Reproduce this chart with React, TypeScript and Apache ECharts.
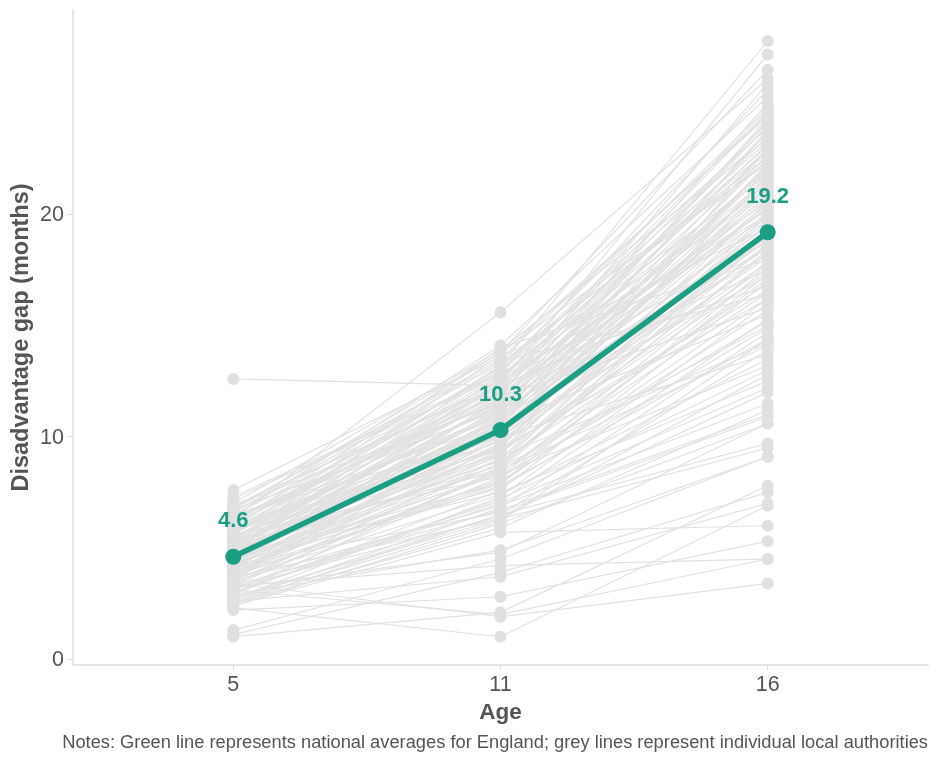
import React, { useEffect, useRef } from "react";
import * as echarts from "echarts";

const ageLabels = ["5", "11", "16"];
const nationalAverage = [4.6, 10.3, 19.2];

// individual local authorities: gap at age 5, 11 and 16 (same index = same authority)
const laAge5 = [
  5.6, 5.2, 6.1, 4.9, 5.8, 6.4, 5.0, 5.4, 6.8, 4.7, 5.9, 6.2, 4.4, 5.1, 7.0, 5.5, 4.8, 6.0, 3.9, 5.3,
  6.6, 4.2, 5.7, 4.6, 7.3, 3.6, 5.0, 6.3, 4.1, 5.6, 4.5, 6.9, 3.8, 5.2, 4.3, 6.5, 3.5, 4.9, 5.8, 4.0,
  7.6, 4.7, 3.3, 5.4, 6.1, 4.4, 3.7, 5.1, 6.7, 4.2, 3.1, 5.5, 4.6, 12.6, 3.9, 5.9, 2.9, 4.8, 3.4, 5.3,
  2.7, 4.1, 6.4, 3.2, 4.5, 2.6, 3.8, 5.0, 2.5, 3.6, 4.3, 2.8, 3.0, 6.3, 2.4, 2.3, 1.3, 3.1, 2.2, 3.4,
  1.1, 1.0, 2.9, 3.3, 2.6, 3.7, 2.7, 3.2, 2.5, 4.2, 3.5, 4.6, 5.2, 4.1, 5.7, 4.9, 3.8, 5.4, 6.2, 4.4,
  5.0, 3.9, 6.0, 4.7, 5.5, 4.2, 6.6, 3.4, 5.1, 4.5, 5.8, 3.7, 6.3, 4.8, 5.3, 4.0, 6.8, 5.6, 3.5, 4.3,
  5.9, 2.9, 4.6, 6.5, 3.3, 5.2, 7.2, 4.9, 3.6, 6.1, 4.4, 5.7, 3.0, 4.1, 5.4, 6.7, 2.4, 4.7, 5.0, 3.2,
  6.4, 5.3, 3.9, 6.9, 4.5, 5.6, 2.6,
];
const laAge11 = [
  13.2, 12.4, 13.8, 11.9, 12.9, 14.1, 11.6, 12.6, 13.5, 11.2, 12.2, 13.0, 10.9, 12.0, 13.9, 11.4, 10.6, 12.7, 10.2, 11.8,
  13.3, 10.0, 11.1, 12.1, 12.8, 9.6, 10.8, 11.7, 9.9, 12.3, 10.4, 11.5, 9.2, 10.7, 11.3, 12.5, 8.8, 10.1, 11.0, 9.4,
  13.6, 10.5, 8.5, 9.8, 12.0, 9.0, 10.3, 8.7, 11.2, 9.7, 8.2, 10.0, 7.9, 12.3, 9.3, 10.9, 7.6, 8.9, 8.4, 9.5,
  7.3, 8.0, 10.6, 7.1, 8.6, 6.8, 7.8, 9.1, 6.5, 7.4, 8.3, 6.3, 7.0, 15.6, 5.7, 1.0, 4.5, 2.0, 2.8, 1.9,
  3.9, 2.1, 4.9, 4.2, 3.7, 6.3, 6.5, 4.8, 5.9, 6.6, 6.9, 10.2, 11.0, 10.8, 12.6, 9.6, 9.9, 11.4, 12.2, 10.3,
  11.5, 8.8, 13.1, 9.3, 10.4, 11.7, 12.9, 9.0, 10.1, 12.4, 9.8, 8.1, 11.3, 10.7, 13.7, 12.8, 13.4, 14.0, 11.8, 7.7,
  9.4, 8.6, 7.5, 10.0, 6.7, 8.5, 12.7, 13.2, 10.6, 11.9, 9.5, 10.5, 7.2, 8.4, 12.1, 13.8, 6.1, 11.1, 12.5, 6.4,
  11.6, 9.2, 7.9, 12.3, 10.9, 8.2, 6.2,
];
const laAge16 = [
  27.8, 27.2, 26.5, 25.9, 25.6, 25.3, 25.0, 24.7, 24.5, 24.3, 24.1, 23.9, 23.7, 23.5, 23.4, 23.2, 23.0, 22.9, 22.7, 22.6,
  22.4, 22.3, 22.1, 22.0, 21.8, 21.7, 21.5, 21.4, 21.2, 21.1, 20.9, 20.8, 20.6, 20.5, 20.3, 20.2, 20.0, 19.9, 19.7, 19.6,
  19.4, 19.3, 19.1, 19.0, 18.8, 18.7, 18.5, 18.4, 18.2, 18.1, 17.9, 17.8, 17.6, 17.5, 17.4, 17.2, 17.0, 16.9, 16.5, 16.2,
  16.0, 15.7, 15.5, 15.3, 15.0, 14.7, 14.4, 14.2, 13.9, 13.5, 13.2, 12.8, 12.2, 26.1, 6.0, 6.9, 9.1, 4.5, 5.3, 3.4,
  7.5, 7.8, 9.1, 4.5, 7.0, 9.5, 9.7, 10.6, 11.2, 10.9, 11.5, 21.3, 20.7, 22.5, 23.3, 18.9, 20.1, 21.9, 22.8, 19.5,
  24.0, 18.3, 24.8, 17.7, 20.4, 21.6, 23.6, 19.8, 22.2, 23.1, 18.6, 17.3, 21.0, 19.2, 24.4, 16.8, 16.4, 18.0, 15.8, 14.9,
  16.6, 19.4, 12.5, 13.7, 11.0, 14.1, 21.2, 22.6, 23.8, 20.6, 21.8, 22.0, 13.0, 17.1, 19.9, 22.3, 10.6, 24.2, 20.0, 12.0,
  18.5, 23.0, 16.2, 24.6, 18.8, 15.2, 14.4,
];

const GREEN = "#1b9e84";
const GREY_LINE = "#e1e1e1";
const GREY_DOT = "#e0e0e0";
const TEXT = "#555555";
const FONT = "Liberation Sans, Arial, sans-serif";

export default function App() {
  const ref = useRef<HTMLDivElement>(null);
  useEffect(() => {
    if (!ref.current) return;
    const chart = echarts.init(ref.current, undefined, { renderer: "svg" });
    const laSeries = laAge5.map((v5, i) => ({
      type: "line" as const,
      silent: true,
      data: [
        [0, v5],
        [1, laAge11[i]],
        [2, laAge16[i]],
      ],
      symbol: "circle",
      symbolSize: 12,
      itemStyle: { color: GREY_DOT },
      lineStyle: { color: GREY_LINE, width: 1.2 },
      z: 2,
    }));
    chart.setOption({
      animation: false,
      textStyle: { fontFamily: FONT },
      grid: { left: 73, right: 12, top: 10, bottom: 98, containLabel: false, outerBoundsMode: "none" },
      xAxis: {
        type: "value",
        min: -0.6,
        max: 2.6,
        name: "Age",
        nameLocation: "middle",
        nameGap: 35,
        nameMoveOverlap: false,
        nameTextStyle: { fontSize: 22.5, fontWeight: "bold", color: TEXT, fontFamily: FONT },
        axisLine: { show: true, onZero: false, lineStyle: { color: "#e6e6e6", width: 2 } },
        axisTick: { show: true, customValues: [0, 1, 2], length: 5, lineStyle: { color: "#dddddd", width: 1 } },
        axisLabel: {
          customValues: [0, 1, 2],
          formatter: (v: number) => ageLabels[Math.round(v)] ?? "",
          fontSize: 21.5,
          color: TEXT,
          margin: 8,
          fontFamily: FONT,
        },
        splitLine: { show: false },
      },
      yAxis: {
        type: "value",
        min: -0.27,
        max: 29.2,
        name: "Disadvantage gap (months)",
        nameLocation: "middle",
        nameGap: 41,
        nameMoveOverlap: false,
        nameRotate: 90,
        nameTextStyle: { fontSize: 23.5, fontWeight: "bold", color: TEXT, fontFamily: FONT },
        axisLine: { show: true, onZero: false, lineStyle: { color: "#e6e6e6", width: 2 } },
        axisTick: { show: true, customValues: [0, 10, 20], length: 5, lineStyle: { color: "#dddddd", width: 1 } },
        axisLabel: {
          customValues: [0, 10, 20],
          fontSize: 21.5,
          color: TEXT,
          margin: 9,
          fontFamily: FONT,
        },
        splitLine: { show: false },
      },
      series: [
        ...laSeries,
        {
          type: "line",
          silent: true,
          data: nationalAverage.map((v, i) => [i, v]),
          symbol: "circle",
          symbolSize: 16,
          itemStyle: { color: GREEN },
          lineStyle: { color: GREEN, width: 5.5 },
          z: 10,
          label: {
            show: true,
            position: "top",
            distance: 18,
            formatter: (p: any) => p.value[1].toFixed(1),
            fontSize: 22,
            fontWeight: "bold",
            color: GREEN,
            fontFamily: FONT,
          },
        },
      ],
      graphic: [
        {
          type: "text",
          right: 12,
          top: 732,
          style: {
            text: "Notes: Green line represents national averages for England; grey lines represent individual local authorities",
            fontSize: 18.3,
            fill: TEXT,
            fontFamily: FONT,
          },
        },
      ],
    });
    return () => chart.dispose();
  }, []);
  return <div ref={ref} style={{ position: "fixed", left: 0, top: 0, width: 940, height: 763 }} />;
}
